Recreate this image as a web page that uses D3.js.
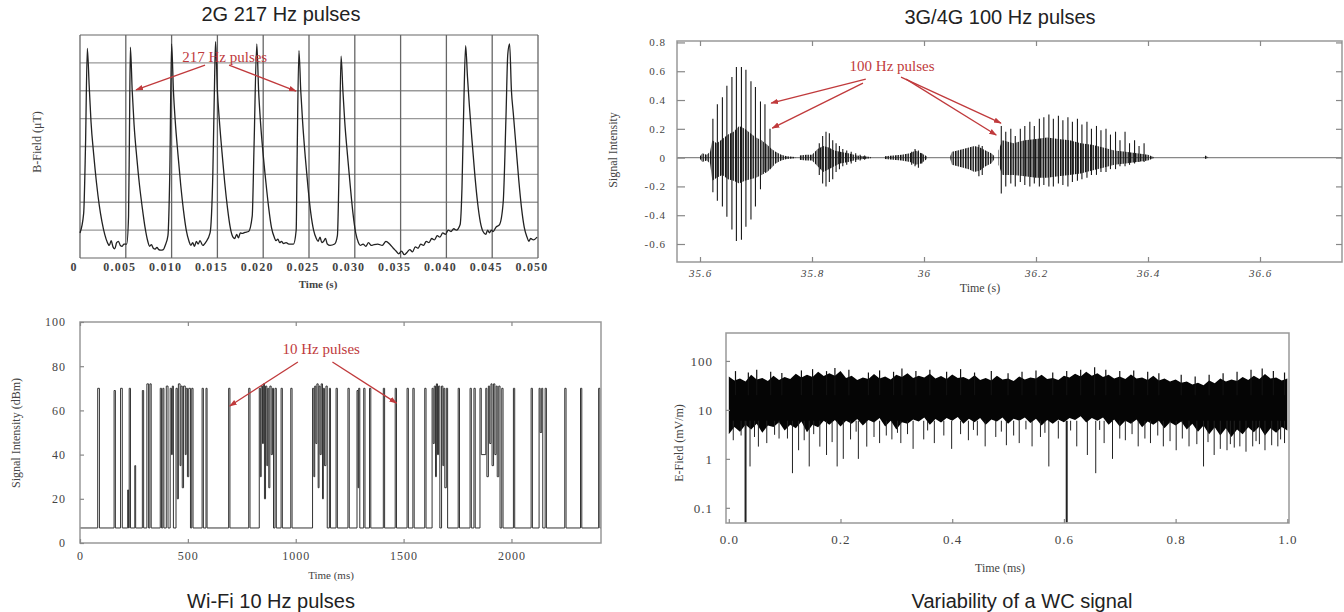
<!DOCTYPE html>
<html lang="en">
<head>
<meta charset="UTF-8">
<title>Pulsed RF signals</title>
<script src="https://cdnjs.cloudflare.com/ajax/libs/d3/7.8.5/d3.min.js"></script>
<style>
  body { margin: 0; background: #fff; }
  svg { display: block; }
</style>
</head>
<body>
<script>
// ---------- 2G panel: B-field trace, time (s) vs grid units (0..8) ----------
var gsmTrace = [
  [0.0000, 0.9], [0.0004, 1.6], [0.0006, 4.0], [0.0008, 7.52], [0.0010, 6.2], [0.0012, 4.9], [0.0015, 3.7],
  [0.0018, 2.7], [0.0021, 1.9], [0.0024, 1.3], [0.0027, 0.85], [0.0030, 0.55], [0.0032, 0.45], [0.0034, 0.62],
  [0.0036, 0.40], [0.0038, 0.33], [0.0040, 0.55], [0.0042, 0.6], [0.0044, 0.45], [0.0046, 0.42], [0.0048, 0.5],
  [0.0051, 0.5], [0.0053, 1.5], [0.0054, 4.5], [0.0055, 7.56], [0.0057, 6.0], [0.0059, 4.8], [0.0062, 3.6],
  [0.0065, 2.6], [0.0068, 1.8], [0.0071, 1.1], [0.0074, 0.6], [0.0076, 0.42], [0.0078, 0.48], [0.0080, 0.35],
  [0.0082, 0.32], [0.0084, 0.38], [0.0086, 0.3], [0.0088, 0.28], [0.0091, 0.3], [0.0093, 0.45],
  [0.0096, 0.8], [0.0098, 3.0], [0.0100, 7.68], [0.0102, 6.0], [0.0104, 4.9], [0.0107, 3.7], [0.0110, 2.6],
  [0.0113, 1.7], [0.0116, 1.0], [0.0119, 0.6], [0.0121, 0.45], [0.0123, 0.55], [0.0125, 0.42], [0.0127, 0.6],
  [0.0129, 0.5], [0.0131, 0.62], [0.0134, 0.45], [0.0137, 0.55],
  [0.0142, 0.9], [0.0145, 3.0], [0.0147, 6.5], [0.0148, 7.76], [0.0150, 6.0], [0.0152, 5.0], [0.0155, 3.8],
  [0.0158, 2.7], [0.0161, 1.8], [0.0164, 1.1], [0.0167, 0.75], [0.0169, 0.7], [0.0171, 0.85], [0.0173, 0.72],
  [0.0175, 0.9], [0.0177, 0.88], [0.0180, 0.92], [0.0184, 0.95],
  [0.0188, 1.5], [0.0190, 4.0], [0.0193, 7.68], [0.0195, 6.0], [0.0197, 4.9], [0.0200, 3.7], [0.0203, 2.7],
  [0.0206, 1.8], [0.0209, 1.1], [0.0212, 0.75], [0.0214, 0.62], [0.0216, 0.68], [0.0218, 0.55], [0.0220, 0.6],
  [0.0222, 0.52], [0.0225, 0.55], [0.0228, 0.5], [0.0233, 0.5],
  [0.0236, 1.0], [0.0237, 3.5], [0.0239, 7.44], [0.0241, 6.0], [0.0243, 4.9], [0.0246, 3.6], [0.0249, 2.5],
  [0.0252, 1.6], [0.0255, 1.0], [0.0258, 0.7], [0.0260, 0.6], [0.0262, 0.75], [0.0264, 0.55], [0.0266, 0.6],
  [0.0268, 0.7], [0.0270, 0.5], [0.0273, 0.45], [0.0278, 0.5],
  [0.0281, 0.8], [0.0283, 3.5], [0.0285, 7.24], [0.0287, 6.0], [0.0289, 4.9], [0.0292, 3.7], [0.0295, 2.6],
  [0.0298, 1.6], [0.0301, 0.9], [0.0304, 0.55], [0.0306, 0.45], [0.0309, 0.5], [0.0312, 0.42], [0.0315, 0.55],
  [0.0318, 0.45], [0.0321, 0.48],
  [0.0325, 0.5], [0.0330, 0.45], [0.0334, 0.6], [0.0338, 0.5], [0.0342, 0.35], [0.0345, 0.25], [0.0348, 0.15],
  [0.0351, 0.25], [0.0354, 0.12], [0.0357, 0.2], [0.0360, 0.3], [0.0363, 0.22], [0.0366, 0.4], [0.0369, 0.35],
  [0.0372, 0.5], [0.0375, 0.45], [0.0378, 0.6], [0.0381, 0.55], [0.0384, 0.7], [0.0387, 0.65], [0.0390, 0.8],
  [0.0393, 0.75], [0.0396, 0.9], [0.0399, 0.85], [0.0402, 1.0], [0.0405, 0.95], [0.0408, 1.05], [0.0411, 1.0],
  [0.0415, 1.2],
  [0.0417, 2.5], [0.0419, 5.5], [0.0421, 7.62], [0.0423, 6.5], [0.0425, 5.5], [0.0428, 4.2], [0.0431, 3.0],
  [0.0434, 2.0], [0.0437, 1.3], [0.0440, 0.95], [0.0443, 0.85], [0.0445, 1.0], [0.0447, 0.9], [0.0449, 1.0],
  [0.0451, 0.95], [0.0454, 1.1], [0.0458, 1.2],
  [0.0462, 2.0], [0.0465, 5.0], [0.0467, 7.3], [0.0469, 7.68], [0.0471, 6.0], [0.0473, 5.2], [0.0476, 4.0],
  [0.0479, 2.8], [0.0482, 1.8], [0.0485, 1.1], [0.0488, 0.75], [0.0490, 0.6], [0.0492, 0.7], [0.0495, 0.65],
  [0.0499, 0.75]
];
var gsmTicks = [0, 0.005, 0.010, 0.015, 0.020, 0.025, 0.030, 0.035, 0.040, 0.045, 0.050];
var gsmTickLabels = ["0", "0.005", "0.010", "0.015", "0.020", "0.025", "0.030", "0.035", "0.040", "0.045", "0.050"];
var gsmRows = [0, 1, 2, 3, 4, 5, 6, 7, 8];
var gsmNote = { text: "217 Hz pulses", at: [0.0158, 7.02] };
var gsmArrows = [[[0.01365, 6.92], [0.00611, 6.03]], [[0.01627, 6.92], [0.02358, 5.99]]];

// ---------- 3G/4G panel: oscillation bursts [t, high, low] ----------
var umtsCoreA = [
  [35.600, 0.01, -0.01], [35.604, 0.03, -0.03], [35.612, 0.02, -0.02], [35.618, 0.04, -0.04], [35.622, 0.12, -0.16],
  [35.630, 0.10, -0.14], [35.640, 0.13, -0.12], [35.650, 0.16, -0.15], [35.660, 0.18, -0.16], [35.670, 0.22, -0.18],
  [35.680, 0.20, -0.16], [35.690, 0.17, -0.15], [35.700, 0.14, -0.14], [35.710, 0.12, -0.12], [35.720, 0.09, -0.10],
  [35.728, 0.06, -0.07], [35.735, 0.04, -0.04], [35.745, 0.02, -0.02], [35.755, 0.01, -0.01], [35.770, 0.005, -0.005]
];
var umtsCoreB = [
  [35.777, 0.015, -0.015], [35.790, 0.02, -0.02], [35.800, 0.02, -0.02], [35.810, 0.06, -0.06], [35.820, 0.08, -0.10],
  [35.830, 0.07, -0.08], [35.840, 0.05, -0.06], [35.850, 0.04, -0.04], [35.865, 0.03, -0.03], [35.880, 0.015, -0.015],
  [35.905, 0.005, -0.005]
];
var umtsCoreC = [
  [35.930, 0.01, -0.01], [35.945, 0.015, -0.015], [35.960, 0.02, -0.02], [35.975, 0.03, -0.03], [35.985, 0.05, -0.05],
  [35.995, 0.03, -0.04], [36.005, 0.01, -0.01]
];
var umtsCoreD = [
  [36.047, 0.01, -0.01], [36.050, 0.04, -0.05], [36.060, 0.05, -0.06], [36.070, 0.06, -0.07], [36.080, 0.07, -0.08],
  [36.090, 0.08, -0.10], [36.100, 0.07, -0.09], [36.110, 0.05, -0.06], [36.120, 0.03, -0.04], [36.126, 0.01, -0.01]
];
var umtsCoreE = [
  [36.133, 0.05, -0.05], [36.140, 0.12, -0.12], [36.160, 0.10, -0.12], [36.180, 0.12, -0.13], [36.200, 0.13, -0.14],
  [36.220, 0.14, -0.14], [36.240, 0.13, -0.13], [36.260, 0.12, -0.12], [36.280, 0.10, -0.11], [36.300, 0.09, -0.09],
  [36.320, 0.07, -0.07], [36.340, 0.05, -0.05], [36.360, 0.04, -0.04], [36.380, 0.03, -0.03], [36.400, 0.02, -0.02],
  [36.410, 0.005, -0.005]
];
var umtsCoreF = [[36.499, 0, 0], [36.503, 0.015, -0.01], [36.508, 0, 0]];
var umtsSpikes = [
  [35.623, 0.27, -0.24], [35.631, 0.37, -0.30], [35.640, 0.42, -0.34], [35.648, 0.50, -0.41], [35.657, 0.56, -0.50],
  [35.665, 0.63, -0.58], [35.674, 0.63, -0.57], [35.682, 0.61, -0.48], [35.691, 0.53, -0.43], [35.699, 0.49, -0.34],
  [35.708, 0.39, -0.22], [35.716, 0.37, -0.10], [35.725, 0.20, -0.08],
  [35.813, 0.10, -0.12], [35.819, 0.15, -0.18], [35.825, 0.18, -0.20], [35.831, 0.17, -0.17], [35.837, 0.12, -0.15],
  [35.843, 0.10, -0.10], [35.849, 0.08, -0.08], [35.855, 0.06, -0.06], [35.862, 0.05, -0.05], [35.870, 0.04, -0.04],
  [35.878, 0.03, -0.03], [35.886, 0.02, -0.02], [35.894, 0.015, -0.015],
  [35.978, 0.04, -0.05], [35.984, 0.06, -0.06], [35.990, 0.05, -0.07], [35.996, 0.03, -0.04],
  [36.098, 0.09, -0.13], [36.104, 0.08, -0.12],
  [36.138, 0.22, -0.25], [36.146, 0.18, -0.20], [36.155, 0.20, -0.18], [36.163, 0.15, -0.20], [36.172, 0.20, -0.17],
  [36.180, 0.22, -0.19], [36.189, 0.25, -0.20], [36.197, 0.22, -0.18], [36.206, 0.27, -0.20], [36.214, 0.28, -0.19],
  [36.223, 0.30, -0.20], [36.231, 0.27, -0.20], [36.240, 0.29, -0.18], [36.248, 0.26, -0.19], [36.257, 0.28, -0.20],
  [36.265, 0.25, -0.17], [36.274, 0.27, -0.16], [36.282, 0.23, -0.15], [36.291, 0.25, -0.14], [36.299, 0.20, -0.12],
  [36.308, 0.22, -0.12], [36.316, 0.19, -0.10], [36.325, 0.20, -0.10], [36.333, 0.16, -0.08], [36.342, 0.18, -0.08],
  [36.350, 0.12, -0.06], [36.359, 0.18, -0.06], [36.367, 0.10, -0.05], [36.376, 0.12, -0.04], [36.384, 0.08, -0.03],
  [36.393, 0.10, -0.03]
];
var umtsXTicks = [35.6, 35.8, 36.0, 36.2, 36.4, 36.6];
var umtsYTicks = [0.8, 0.6, 0.4, 0.2, 0, -0.2, -0.4, -0.6];
var umtsNote = { text: "100 Hz pulses", at: [35.943, 0.60] };
var umtsArrows = [
  [[35.896, 0.545], [35.727, 0.379]], [[35.891, 0.517], [35.729, 0.205]],
  [[35.959, 0.559], [36.1375, 0.240]], [[35.968, 0.545], [36.129, 0.157]]
];

// ---------- Wi-Fi panel: pulses [start ms, width ms, top dBm, floor after pulse] ----------
var wifiBase = 6.8;
var wifiPulses = [
  [82, 8, 70], [158, 6, 69], [188, 8, 70], [221, 4, 24], [228, 6, 70], [254, 4, 35], [289, 6, 69], [310, 8, 72], [324, 6, 72],
  [372, 6, 70], [384, 5, 70], [400, 8, 71], [418, 6, 70, 40], [428, 5, 71], [445, 6, 70, 20], [456, 8, 72, 35],
  [468, 6, 71, 25], [480, 8, 71, 40], [492, 6, 70, 30], [504, 8, 70], [518, 6, 70],
  [566, 6, 70], [584, 5, 70], [689, 6, 70], [782, 6, 70],
  [831, 5, 70, 30], [840, 6, 71, 45], [850, 5, 72, 20], [860, 6, 71, 35], [870, 5, 70, 25], [880, 6, 71, 40], [892, 5, 70],
  [904, 6, 70], [932, 6, 70], [977, 6, 70],
  [1078, 6, 70, 30], [1088, 5, 71, 45], [1098, 6, 72, 25], [1108, 5, 71, 40], [1118, 6, 72, 20], [1128, 5, 70, 35],
  [1140, 6, 71], [1156, 5, 70],
  [1187, 6, 70], [1242, 6, 70], [1284, 5, 69, 25], [1292, 5, 70], [1315, 6, 70], [1342, 6, 70], [1406, 6, 70],
  [1461, 6, 70], [1516, 6, 70], [1543, 6, 70], [1598, 6, 70],
  [1632, 5, 70, 45], [1642, 6, 71, 30], [1652, 5, 72, 40], [1662, 6, 71], [1676, 6, 71, 35], [1686, 5, 70, 25], [1698, 6, 70],
  [1753, 6, 70], [1808, 6, 70], [1826, 6, 70], [1854, 6, 70, 40],
  [1881, 5, 70, 30], [1893, 6, 71, 45], [1905, 5, 72, 35], [1917, 6, 72, 40], [1929, 5, 71, 30], [1941, 6, 71], [1955, 6, 70],
  [2009, 6, 70], [2091, 6, 70], [2128, 5, 70, 50], [2140, 5, 70], [2156, 6, 70], [2247, 6, 70], [2320, 6, 70], [2404, 6, 70]
];
var wifiEnd = 2415;
var wifiXTicks = [0, 500, 1000, 1500, 2000];
var wifiYTicks = [0, 20, 40, 60, 80, 100];
var wifiNote = { text: "10 Hz pulses", at: [1118, 85.5] };
var wifiArrows = [[[1010, 81.9], [694, 62.0]], [[1170, 81.9], [1467, 63.3]]];

// ---------- WC panel: E-field band [t ms, upper, lower core], peaks and dips ----------
var wcBand = [
  [0.00, 48, 3.2], [0.01, 40, 4.5], [0.02, 44, 3.6], [0.03, 38, 5.0], [0.04, 52, 4.0], [0.05, 42, 5.2],
  [0.06, 45, 3.4], [0.07, 39, 4.8], [0.08, 50, 4.5], [0.09, 41, 5.6], [0.10, 47, 3.8], [0.11, 43, 5.0],
  [0.12, 55, 4.2], [0.13, 46, 5.8], [0.14, 52, 3.5], [0.15, 47, 5.0], [0.16, 60, 4.4], [0.17, 49, 6.0],
  [0.18, 56, 5.0], [0.19, 50, 6.2], [0.20, 62, 4.6], [0.21, 45, 6.0], [0.22, 50, 5.2], [0.23, 41, 6.5],
  [0.24, 46, 4.8], [0.25, 43, 6.2], [0.26, 54, 5.5], [0.27, 44, 6.8], [0.28, 48, 4.6], [0.29, 42, 6.0],
  [0.30, 52, 4.0], [0.31, 47, 5.6], [0.32, 56, 5.2], [0.33, 45, 6.4], [0.34, 50, 5.8], [0.35, 46, 7.0],
  [0.36, 55, 5.0], [0.37, 44, 6.5], [0.38, 49, 5.5], [0.39, 43, 6.8], [0.40, 53, 6.0], [0.41, 45, 7.2],
  [0.42, 47, 5.2], [0.43, 42, 6.6], [0.44, 51, 5.6], [0.45, 41, 6.8], [0.46, 45, 5.0], [0.47, 40, 6.4],
  [0.48, 50, 5.8], [0.49, 42, 7.0], [0.50, 44, 5.2], [0.51, 39, 6.6], [0.52, 48, 6.0], [0.53, 42, 7.0],
  [0.54, 46, 5.4], [0.55, 44, 6.6], [0.56, 52, 4.8], [0.57, 43, 6.2], [0.58, 45, 5.2], [0.59, 41, 6.4],
  [0.60, 50, 5.6], [0.61, 46, 6.8], [0.62, 55, 6.2], [0.63, 48, 7.4], [0.64, 60, 5.5], [0.65, 50, 6.8],
  [0.66, 56, 6.0], [0.67, 47, 7.0], [0.68, 52, 5.0], [0.69, 44, 6.4], [0.70, 48, 4.6], [0.71, 43, 6.0],
  [0.72, 53, 5.2], [0.73, 44, 6.4], [0.74, 46, 4.4], [0.75, 41, 5.8], [0.76, 50, 5.0], [0.77, 40, 6.0],
  [0.78, 44, 4.2], [0.79, 38, 5.6], [0.80, 42, 4.8], [0.81, 36, 5.8], [0.82, 38, 4.0], [0.83, 33, 5.2],
  [0.84, 36, 3.6], [0.85, 32, 4.8], [0.86, 40, 3.2], [0.87, 35, 4.4], [0.88, 44, 3.0], [0.89, 38, 4.2],
  [0.90, 42, 2.8], [0.91, 39, 4.0], [0.92, 47, 3.2], [0.93, 41, 4.4], [0.94, 50, 3.5], [0.95, 43, 4.6],
  [0.96, 54, 3.0], [0.97, 44, 4.2], [0.98, 46, 3.4], [0.99, 40, 4.5], [1.00, 44, 3.8]
];
var wcPeaks = [
  [0.012, 62], [0.035, 58], [0.05, 66], [0.075, 60], [0.095, 57], [0.13, 64], [0.15, 68], [0.175, 62], [0.19, 72],
  [0.215, 66], [0.25, 58], [0.27, 64], [0.295, 60], [0.31, 70], [0.335, 62], [0.36, 66], [0.39, 60], [0.415, 68],
  [0.44, 58], [0.47, 62], [0.5, 56], [0.525, 60], [0.55, 64], [0.58, 58], [0.605, 62], [0.63, 66], [0.655, 74],
  [0.675, 66], [0.7, 62], [0.725, 64], [0.75, 60], [0.77, 56], [0.81, 52], [0.835, 48], [0.86, 52], [0.885, 56],
  [0.91, 60], [0.935, 66], [0.955, 70], [0.975, 62], [0.995, 58]
];
var wcDips = [
  [0.030, 0.05], [0.038, 0.70], [0.053, 1.78], [0.068, 2.1], [0.09, 2.6], [0.114, 0.51], [0.125, 1.5], [0.135, 2.4],
  [0.144, 0.7], [0.163, 1.78], [0.175, 1.2], [0.185, 2.2], [0.194, 0.7], [0.205, 1.0], [0.218, 2.5], [0.232, 1.0],
  [0.247, 1.78], [0.26, 2.8], [0.27, 2.1], [0.282, 3.0], [0.292, 2.5], [0.308, 2.1], [0.32, 3.2], [0.33, 1.6],
  [0.349, 2.5], [0.368, 2.1], [0.385, 3.0], [0.399, 1.6], [0.415, 3.2], [0.429, 2.4], [0.445, 3.0], [0.459, 1.8],
  [0.478, 2.8], [0.497, 1.9], [0.51, 3.0], [0.52, 2.1], [0.543, 1.8], [0.558, 2.8], [0.573, 0.7], [0.59, 2.6],
  [0.605, 0.05], [0.623, 1.8], [0.642, 1.2], [0.657, 0.51], [0.672, 2.1], [0.687, 1.0], [0.70, 2.6], [0.71, 2.4],
  [0.733, 1.8], [0.745, 2.6], [0.755, 2.1], [0.778, 1.8], [0.79, 2.3], [0.801, 1.5], [0.824, 1.8], [0.838, 2.0],
  [0.85, 0.7], [0.869, 1.2], [0.88, 1.6], [0.892, 1.5], [0.905, 1.7], [0.915, 1.8], [0.926, 1.4], [0.938, 1.8],
  [0.95, 2.0], [0.96, 1.5], [0.972, 1.9], [0.983, 1.8], [0.995, 2.1],
  [0.008, 2.4], [0.022, 3.0], [0.046, 2.8], [0.082, 3.1], [0.105, 2.6], [0.152, 3.2], [0.228, 3.6], [0.302, 3.4],
  [0.356, 3.8], [0.438, 3.9], [0.488, 3.6], [0.532, 4.0], [0.566, 3.4], [0.612, 3.8], [0.664, 3.9], [0.722, 3.2],
  [0.768, 3.0], [0.812, 2.6], [0.858, 2.2], [0.898, 2.0], [0.944, 2.3], [0.988, 2.5]
];
var wcXTicks = [0, 0.2, 0.4, 0.6, 0.8, 1.0];
var wcYTicks = [0.1, 1, 10, 100];

var titles = ["2G 217 Hz pulses", "3G/4G 100 Hz pulses", "Wi-Fi 10 Hz pulses", "Variability of a WC signal"];

// ---------- drawing ----------
var serif = '"Liberation Serif", "Times New Roman", serif';
var sans = '"Liberation Sans", Arial, sans-serif';
var red = "#c03a3c";

var svg = d3.select("body").append("svg").attr("width", 1344).attr("height", 612);
svg.append("rect").attr("width", 1344).attr("height", 612).attr("fill", "#fff");

var defs = svg.append("defs");
defs.append("marker")
    .attr("id", "arrow").attr("viewBox", "0 0 10 10").attr("refX", 9).attr("refY", 5)
    .attr("markerWidth", 6).attr("markerHeight", 6).attr("orient", "auto")
    .append("path").attr("d", "M0,1.5L10,5L0,8.5z").attr("fill", red);
// vertical hatching so the dense oscillation cores keep some texture
defs.append("pattern")
    .attr("id", "osc").attr("patternUnits", "userSpaceOnUse").attr("width", 2.5).attr("height", 10)
    .append("rect").attr("width", 1.5).attr("height", 10).attr("fill", "#111");

function title(text, x, y) {
    svg.append("text").attr("x", x).attr("y", y).attr("text-anchor", "middle")
        .attr("font-family", sans).attr("font-size", 20).attr("fill", "#222").text(text);
}

function label(g, text, x, y, rotate, size, bold) {
    g.append("text").attr("text-anchor", "middle")
        .attr("transform", "translate(" + x + "," + y + ")" + (rotate ? " rotate(-90)" : ""))
        .attr("font-family", serif).attr("font-size", size || 12).attr("font-weight", bold ? "bold" : null)
        .attr("fill", "#444").text(text);
}

function note(g, n, arrows, x, y) {
    g.append("text").attr("x", x(n.at[0])).attr("y", y(n.at[1])).attr("text-anchor", "middle")
        .attr("font-family", serif).attr("font-size", 15).attr("fill", red).text(n.text);
    g.selectAll(".arrow").data(arrows).enter().append("line")
        .attr("x1", function (d) { return x(d[0][0]); }).attr("y1", function (d) { return y(d[0][1]); })
        .attr("x2", function (d) { return x(d[1][0]); }).attr("y2", function (d) { return y(d[1][1]); })
        .attr("stroke", red).attr("stroke-width", 1.3).attr("marker-end", "url(#arrow)");
}

function styleAxis(sel, size, italic) {
    sel.select(".domain").remove();
    sel.selectAll(".tick line").attr("stroke", "#888").attr("stroke-width", 1.2);
    sel.selectAll(".tick text").attr("font-family", serif).attr("font-size", size)
        .attr("fill", "#444").attr("letter-spacing", 1).attr("font-style", italic ? "italic" : null);
}

// ---- panel 1: 2G ----
var x1 = d3.scaleLinear().domain([0, 0.05]).range([80, 538]);
var y1 = d3.scaleLinear().domain([0, 8]).range([258, 35]);
var g1 = svg.append("g");

g1.selectAll(".hgrid").data(gsmRows).enter().append("line")
    .attr("x1", x1(0)).attr("x2", x1(0.05))
    .attr("y1", function (d) { return y1(d); }).attr("y2", function (d) { return y1(d); })
    .attr("stroke", "#999").attr("stroke-width", 1.3);
g1.selectAll(".vgrid").data(gsmTicks).enter().append("line")
    .attr("x1", function (d) { return x1(d); }).attr("x2", function (d) { return x1(d); })
    .attr("y1", y1(0)).attr("y2", y1(8))
    .attr("stroke", "#666").attr("stroke-width", 1.3);

g1.append("path").datum(gsmTrace)
    .attr("fill", "none").attr("stroke", "#222").attr("stroke-width", 1.3)
    .attr("d", d3.line().curve(d3.curveMonotoneX)
        .x(function (d) { return x1(d[0]); }).y(function (d) { return y1(d[1]); }));

g1.selectAll(".xlab").data(gsmTicks).enter().append("text")
    .attr("x", function (d) { return x1(d) - 6; }).attr("y", 271).attr("text-anchor", "middle")
    .attr("font-family", serif).attr("font-size", 12).attr("font-weight", "bold")
    .attr("letter-spacing", 1.2).attr("fill", "#444")
    .text(function (d, i) { return gsmTickLabels[i]; });

label(g1, "B-Field (\u03bcT)", 41, 142, true, 12);
label(g1, "Time (s)", 318, 288, false, 11, true);
note(g1, gsmNote, gsmArrows, x1, y1);
title(titles[0], 281, 21);

// ---- panel 2: 3G/4G ----
var x2 = d3.scaleLinear().domain([35.6 - 23 / 560, 35.6 + 642 / 560]).range([677, 1342]);
var y2 = d3.scaleLinear().domain([-0.725, 0.81]).range([262, 41]);
var g2 = svg.append("g");

g2.append("line").attr("x1", 677).attr("x2", 1342).attr("y1", y2(0)).attr("y2", y2(0))
    .attr("stroke", "#888").attr("stroke-width", 1.2);

var area2 = d3.area()
    .x(function (d) { return x2(d[0]); })
    .y0(function (d) { return y2(d[2]); })
    .y1(function (d) { return y2(d[1]); });
g2.selectAll(".core").data([umtsCoreA, umtsCoreB, umtsCoreC, umtsCoreD, umtsCoreE, umtsCoreF]).enter()
    .append("path").attr("d", area2).attr("fill", "url(#osc)");

g2.selectAll(".spike").data(umtsSpikes).enter().append("line")
    .attr("x1", function (d) { return x2(d[0]); }).attr("x2", function (d) { return x2(d[0]); })
    .attr("y1", function (d) { return y2(d[1]); }).attr("y2", function (d) { return y2(d[2]); })
    .attr("stroke", "#1a1a1a").attr("stroke-width", 1.1);

g2.append("rect").attr("x", 677).attr("y", 41).attr("width", 665).attr("height", 221)
    .attr("fill", "none").attr("stroke", "#999").attr("stroke-width", 1.5);

var fmt2 = function (d) { return d === 0 ? "0" : d.toFixed(1); };
g2.append("g").attr("transform", "translate(677,0)")
    .call(d3.axisLeft(y2).tickValues(umtsYTicks).tickSize(-8).tickPadding(11).tickFormat(fmt2))
    .call(styleAxis, 11, false);
g2.append("g").attr("transform", "translate(1342,0)")
    .call(d3.axisRight(y2).tickValues(umtsYTicks).tickSize(-6).tickFormat(""))
    .call(styleAxis, 11, false);
g2.append("g").attr("transform", "translate(0,262)")
    .call(d3.axisBottom(x2).tickValues(umtsXTicks).tickSize(-5).tickPadding(7)
        .tickFormat(function (d) { return String(+d.toFixed(1)); }))
    .call(styleAxis, 11, true);
g2.append("g").attr("transform", "translate(0,41)")
    .call(d3.axisTop(x2).tickValues(umtsXTicks).tickSize(-5).tickFormat(""))
    .call(styleAxis, 11, false);

label(g2, "Signal Intensity", 617, 150, true, 12);
label(g2, "Time (s)", 980, 292, false, 12);
note(g2, umtsNote, umtsArrows, x2, y2);
title(titles[1], 1000, 24);

// ---- panel 3: Wi-Fi ----
var x3 = d3.scaleLinear().domain([0, wifiEnd]).range([80, 601]);
var y3 = d3.scaleLinear().domain([0, 100]).range([543, 322]);
var g3 = svg.append("g");

var wifiPts = [[0, wifiBase]];
var level = wifiBase;
wifiPulses.forEach(function (p) {
    var floor = p.length > 3 ? p[3] : wifiBase;
    wifiPts.push([p[0], level], [p[0], p[2]], [p[0] + p[1], p[2]], [p[0] + p[1], floor]);
    level = floor;
});
wifiPts.push([wifiEnd, level]);

g3.append("path").datum(wifiPts)
    .attr("fill", "none").attr("stroke", "#333").attr("stroke-width", 1)
    .attr("d", d3.line().x(function (d) { return x3(d[0]); }).y(function (d) { return y3(d[1]); }));

g3.append("rect").attr("x", 80).attr("y", 322).attr("width", 521).attr("height", 221)
    .attr("fill", "none").attr("stroke", "#999").attr("stroke-width", 1.5);

g3.append("g").attr("transform", "translate(80,0)")
    .call(d3.axisLeft(y3).tickValues(wifiYTicks).tickSize(-4).tickPadding(14).tickFormat(d3.format("d")))
    .call(styleAxis, 12, false);
g3.append("g").attr("transform", "translate(0,543)")
    .call(d3.axisBottom(x3).tickValues(wifiXTicks).tickSize(-4).tickPadding(8).tickFormat(d3.format("d")))
    .call(styleAxis, 12, false);
g3.append("g").attr("transform", "translate(0,322)")
    .call(d3.axisTop(x3).tickValues(wifiXTicks).tickSize(-4).tickFormat(""))
    .call(styleAxis, 12, false);

label(g3, "Signal Intensity (dBm)", 20, 433, true, 12);
label(g3, "Time (ms)", 331, 579, false, 11);
note(g3, wifiNote, wifiArrows, x3, y3);
title(titles[2], 271, 608);

// ---- panel 4: WC signal ----
var x4 = d3.scaleLinear().domain([-0.005, 1.003]).range([726, 1289]);
var y4 = d3.scaleLog().domain([0.049, 372]).range([523, 333]);
var g4 = svg.append("g");

g4.append("path").datum(wcBand).attr("fill", "#050505")
    .attr("d", d3.area()
        .x(function (d) { return x4(d[0]); })
        .y0(function (d) { return y4(d[2]); })
        .y1(function (d) { return y4(d[1]); }));

g4.selectAll(".peak").data(wcPeaks).enter().append("line")
    .attr("x1", function (d) { return x4(d[0]); }).attr("x2", function (d) { return x4(d[0]); })
    .attr("y1", y4(20)).attr("y2", function (d) { return y4(d[1]); })
    .attr("stroke", "#111").attr("stroke-width", 1.2);

g4.selectAll(".dip").data(wcDips).enter().append("line")
    .attr("x1", function (d) { return x4(d[0]); }).attr("x2", function (d) { return x4(d[0]); })
    .attr("y1", y4(6)).attr("y2", function (d) { return y4(d[1]); })
    .attr("stroke", "#222").attr("stroke-width", function (d) { return d[1] < 0.1 ? 2 : 1; });

g4.append("rect").attr("x", 726).attr("y", 333).attr("width", 563).attr("height", 190)
    .attr("fill", "none").attr("stroke", "#999").attr("stroke-width", 1.5);

g4.append("g").attr("transform", "translate(726,0)")
    .call(d3.axisLeft(y4).tickValues(wcYTicks).tickSize(-4).tickPadding(13)
        .tickFormat(function (d) { return String(d); }))
    .call(styleAxis, 13, false);
g4.append("g").attr("transform", "translate(0,523)")
    .call(d3.axisBottom(x4).tickValues(wcXTicks).tickSize(-4).tickPadding(12).tickFormat(d3.format(".1f")))
    .call(styleAxis, 13, false);

label(g4, "E-Field (mV/m)", 683, 443, true, 12);
label(g4, "Time (ms)", 1000, 572, false, 12);
title(titles[3], 1022, 608);
</script>
</body>
</html>
